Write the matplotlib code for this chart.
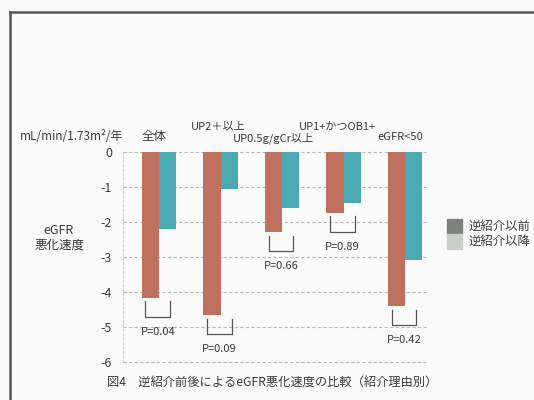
import matplotlib
matplotlib.use("Agg")
import matplotlib.pyplot as plt
import matplotlib.patches as mpatches
from matplotlib.lines import Line2D
import numpy as np

plt.rcParams['font.family'] = ['Noto Sans CJK JP', 'DejaVu Sans']

# Data
categories = ["全体", "UP2＋以上", "UP0.5g/gCr以上", "UP1+かつOB1+", "eGFR<50"]
before = [-4.16, -4.66, -2.29, -1.74, -4.40]   # 逆紹介以前
after = [-2.19, -1.06, -1.60, -1.47, -3.08]    # 逆紹介以降
p_labels = ["P=0.04", "P=0.09", "P=0.66", "P=0.89", "P=0.42"]
yticks = [0, -1, -2, -3, -4, -5, -6]
legend_labels = ["逆紹介以前", "逆紹介以降"]

red = "#c0705f"
teal = "#4ba9b1"
grid_col = "#b8b8b8"
text_col = "#3a3a3a"

fig = plt.figure(figsize=(5.34, 4.0), dpi=100, facecolor="#fbfbfb")
ax = fig.add_axes([123 / 534, 38 / 400, 305 / 534, 210 / 400])
ax.set_facecolor("#fbfbfb")

x = np.arange(len(categories))
w = 0.28
ax.bar(x - w / 2, before, width=w, color=red, zorder=3)
ax.bar(x + w / 2, after, width=w, color=teal, zorder=3)

ax.set_xlim(-0.585, 4.37)
ax.set_ylim(-6, 0)
ax.set_yticks(yticks)
ax.set_yticklabels([str(t) for t in yticks], fontsize=9, color=text_col)
ax.tick_params(axis="y", length=0, pad=8)
ax.set_xticks([])
for s in ["top", "right", "bottom"]:
    ax.spines[s].set_visible(False)
ax.spines["left"].set_color("#d0d0d0")
ax.spines["left"].set_linestyle((0, (2, 2)))
ax.spines["left"].set_linewidth(0.8)
for t in yticks:
    ax.axhline(t, color=grid_col, lw=0.8, ls=(0, (3, 2)), zorder=1, clip_on=False)

# Category labels above the zero line
label_dx = [-0.08, -0.03, -0.14, -0.11, -0.08]
label_y = [0.43, 0.74, 0.40, 0.71, 0.43]
label_fs = [9, 8, 8, 8, 8]
for i, lab in enumerate(categories):
    ax.text(x[i] + label_dx[i], label_y[i], lab, ha="center", va="center",
            fontsize=label_fs[i], color=text_col, clip_on=False)

# Significance brackets with P values
gap, depth = 0.1, 0.45
for i, (b, p) in enumerate(zip(before, p_labels)):
    top = b - gap
    bot = top - depth
    xl, xr = x[i] - 0.22, x[i] + 0.18
    ax.add_line(Line2D([xl, xl, xr, xr], [top, bot, bot, top],
                       color="#555555", lw=0.9, clip_on=False, zorder=4))
    ax.text((xl + xr) / 2, bot - 0.42, p, ha="center", va="center",
            fontsize=8, color=text_col, clip_on=False)

# Axis titles
fig.text(123 / 534, 1 - 137 / 400, "mL/min/1.73m²/年", ha="right", va="center",
         fontsize=8.5, color=text_col)
fig.text(59 / 534, 1 - 238 / 400, "eGFR\n悪化速度", ha="center", va="center",
         fontsize=9, color=text_col, linespacing=1.2)

# Legend
legend_cols = ["#7d827d", "#c9cec9"]
for k, (lab, c) in enumerate(zip(legend_labels, legend_cols)):
    y0 = 1 - (234 + 15 * k) / 400
    fig.patches.append(mpatches.Rectangle((447 / 534, y0), 15 / 534, 15 / 400,
                                          transform=fig.transFigure, color=c))
    fig.text(469 / 534, y0 + 7.5 / 400, lab, ha="left", va="center",
             fontsize=8.9, color=text_col)

# Caption
fig.text(272 / 534, 1 - 382 / 400,
         "図4　逆紹介前後によるeGFR悪化速度の比較（紹介理由別）",
         ha="center", va="center", fontsize=8.8, color=text_col)

# Page frame
fig.add_artist(Line2D([10 / 534, 10 / 534], [0, 1 - 12 / 400],
                      transform=fig.transFigure, color="#555555", lw=1.8))
fig.add_artist(Line2D([10 / 534, 1], [1 - 12 / 400, 1 - 12 / 400],
                      transform=fig.transFigure, color="#555555", lw=1.8))

fig.savefig("out.png", dpi=100, facecolor=fig.get_facecolor())
